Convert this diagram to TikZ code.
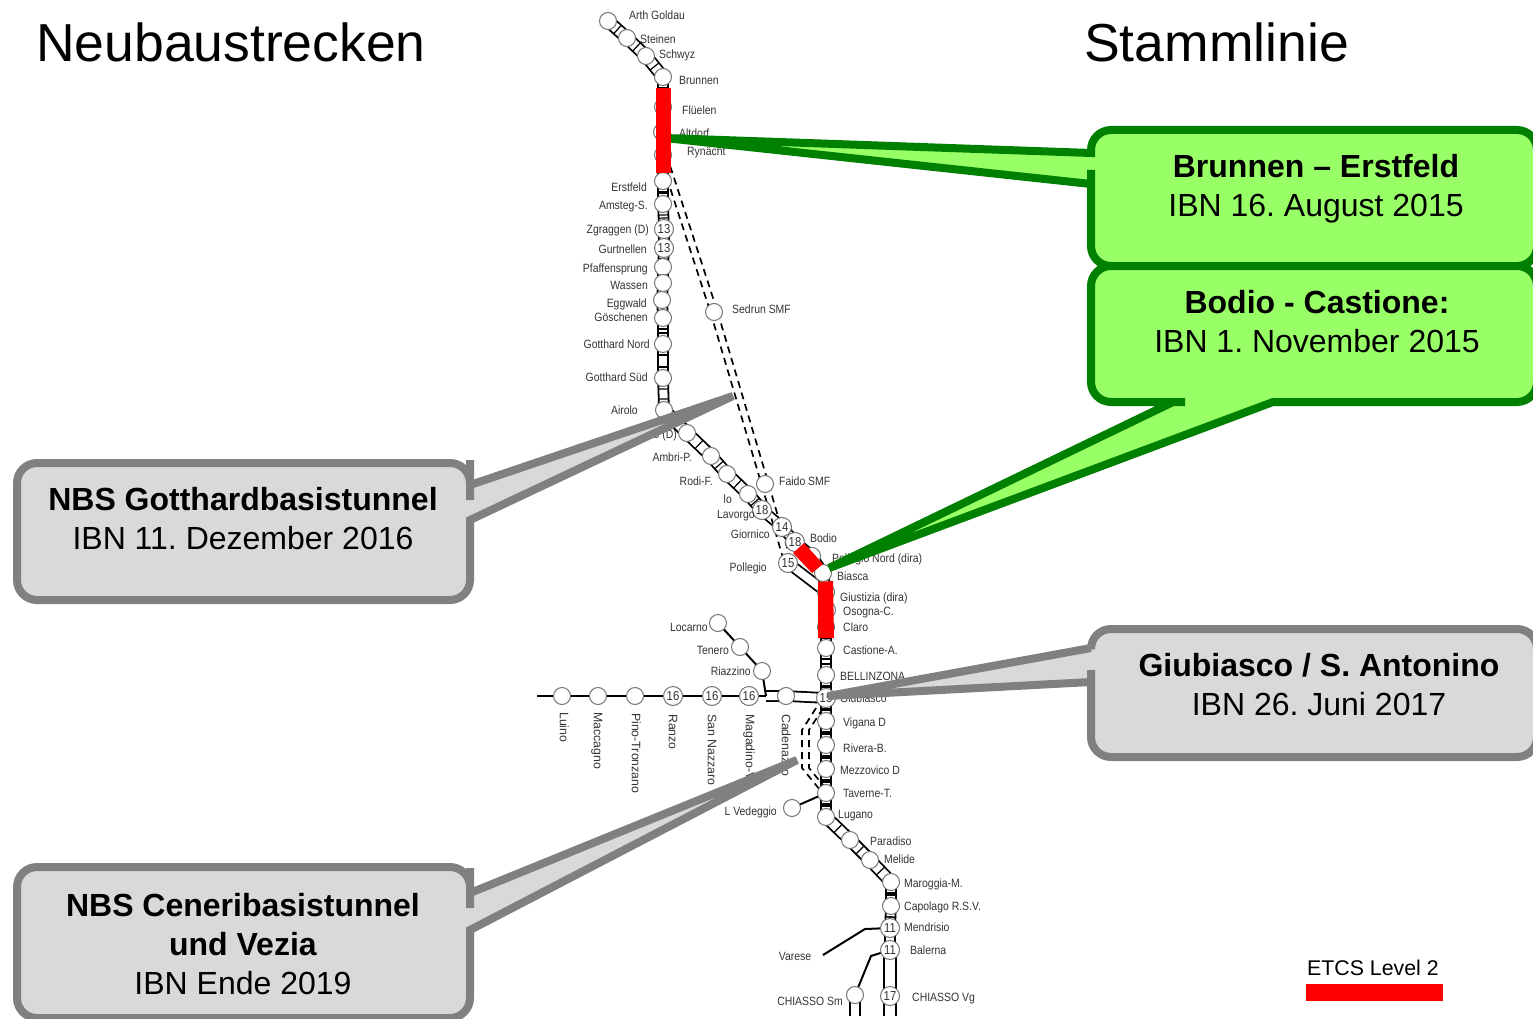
\documentclass[tikz,border=0pt]{standalone}
\usepackage{fontspec}
\setmainfont{Liberation Sans}
\newfontfamily\stationfont[FakeStretch=0.87]{Liberation Sans}
\usetikzlibrary{backgrounds,decorations.markings}
\definecolor{callgreenfill}{HTML}{99FF66}
\definecolor{callgreenline}{HTML}{008000}
\definecolor{callgrayfill}{HTML}{D9D9D9}
\definecolor{callgrayline}{HTML}{808080}
\definecolor{stationgray}{HTML}{333333}
\tikzset{
    station/.style={
        circle,
        draw=black!55,
        fill=white,
        line width=1pt,
        minimum size=17pt,
        inner sep=0pt,
        text=stationgray,
        font=\stationfont\fontsize{13}{13}\selectfont,
    },
    numstation/.style={
        station,
        minimum size=19pt,
    },
    lblr/.style={
        anchor=west,
        inner sep=0pt,
        text height=10.5pt,
        text depth=2pt,
        text=stationgray,
        font=\stationfont\fontsize{12}{12}\selectfont,
    },
    lbll/.style={
        lblr,
        anchor=east,
    },
    lbld/.style={
        lblr,
        rotate=-90,
        text height=9pt,
        text depth=2.5pt,
        font=\fontsize{12.3}{12}\selectfont,
    },
    rails/.style={
        draw=black,
        line width=1.8pt,
        double=white,
        double distance=8pt,
    },
    track/.style={
        rails,
        postaction={
            decorate,
            decoration={
                markings,
                mark=at position 11pt with {\draw[line width=1.2pt,double=none] (0,-5.5pt) -- (0,5.5pt);},
                mark=at position -11pt with {\draw[line width=1.2pt,double=none] (0,-5.5pt) -- (0,5.5pt);},
            },
        },
    },
    slanttrack/.style={
        rails,
        double distance=9.5pt,
        postaction={
            decorate,
            decoration={
                markings,
                mark=at position 0.5 with {\draw[line width=1.2pt,double=none] (0,-6pt) -- (0,6pt);},
            },
        },
    },
    single/.style={
        draw=black,
        line width=2pt,
    },
    tunnel/.style={
        draw=black,
        line width=1.7pt,
        dash pattern=on 7pt off 5pt,
    },
    callgreen/.style={
        draw=callgreenline,
        fill=callgreenfill,
        line width=8pt,
        rounded corners=20pt,
    },
    callgray/.style={
        draw=callgrayline,
        fill=callgrayfill,
        line width=8pt,
        rounded corners=20pt,
    },
    calltext/.style={
        align=center,
        inner sep=0pt,
        font=\frenchspacing\fontsize{32}{39}\selectfont,
    },
    title/.style={
        anchor=west,
        inner sep=0pt,
        font=\fontsize{53.5}{53.5}\selectfont,
    },
    etcsbar/.style={
        fill=red,
        draw=none,
    },
}
\begin{document}
\begin{tikzpicture}[x=1pt,y=-1pt]
    \useasboundingbox (0,0) rectangle (1533,1019);
    \node[title](neubau) at (36,42.5) {Neubaustrecken};
    \node[title](stamm) at (1084,42.5) {Stammlinie};
    % Gotthard line
    \node[station](arth) at (608,21) {};
    \node[lblr](tArth) at (629,15) {Arth Goldau};
    \node[station](steinen) at (627,38) {};
    \node[lblr](tSteinen) at (640,39) {Steinen};
    \node[station](schwyz) at (646,56) {};
    \node[lblr](tSchwyz) at (659,54) {Schwyz};
    \node[station](brunnen) at (663,77) {};
    \node[lblr](tBrunnen) at (679,80) {Brunnen};
    \node[station](flueelen) at (663,107) {};
    \node[lblr](tFlueelen) at (682,110) {Flüelen};
    \node[station](altdorf) at (662,132) {};
    \node[lblr](tAltdorf) at (679,133) {Altdorf};
    \node[station](rynaecht) at (663,155) {};
    \node[lblr](tRynaecht) at (687,151) {Rynächt};
    \node[station](erstfeld) at (663,181) {};
    \node[lbll](tErstfeld) at (647,187) {Erstfeld};
    \node[station](amsteg) at (663,204) {};
    \node[lbll](tAmsteg) at (648,205) {Amsteg-S.};
    \node[numstation](zgraggen) at (664,229) {13};
    \node[lbll](tZgraggen) at (649,229.5) {Zgraggen (D)};
    \node[numstation](gurtnellen) at (664,248) {13};
    \node[lbll](tGurtnellen) at (647,249) {Gurtnellen};
    \node[station](pfaffensprung) at (663,267) {};
    \node[lbll](tPfaffensprung) at (648,268) {Pfaffensprung};
    \node[station](wassen) at (663,283) {};
    \node[lbll](tWassen) at (648,285) {Wassen};
    \node[station](eggwald) at (662,300) {};
    \node[lbll](tEggwald) at (647,303) {Eggwald};
    \node[station](goeschenen) at (663,318) {};
    \node[lbll](tGoeschenen) at (648,317) {Göschenen};
    \node[station](gnord) at (663,344) {};
    \node[lbll](tGnord) at (650,344) {Gotthard Nord};
    \node[station](gsued) at (663,378) {};
    \node[lbll](tGsued) at (648,377) {Gotthard Süd};
    \node[station](airolo) at (664,410) {};
    \node[lbll](tAirolo) at (638,410) {Airolo};
    \node[station](piotta) at (687,433) {};
    \node[lbll](tPiotta) at (677,434) {o (D)};
    \node[station](ambri) at (711,456) {};
    \node[lbll](tAmbri) at (692,457) {Ambri-P.};
    \node[station](rodi) at (727,474) {};
    \node[lbll](tRodi) at (713,481) {Rodi-F.};
    \node[station](faidoN) at (748,494) {};
    \node[lbll](tFaidoN) at (732,499) {lo};
    \node[numstation](lavorgo) at (762,510) {18};
    \node[lbll](tLavorgo) at (755,514) {Lavorgo};
    \node[numstation](giornico) at (782,527) {14};
    \node[lbll](tGiornico) at (770,534) {Giornico};
    \node[numstation](bodioN) at (795,542) {18};
    \node[station](bodio) at (812,556) {};
    \node[lblr](tBodio) at (810,538) {Bodio};
    \node[lblr](tPollegioN) at (832,558) {Pollegio Nord (dira)};
    \node[numstation](pollegio) at (788,563) {15};
    \node[lbll](tPollegio) at (767,567) {Pollegio};
    \node[station](biasca) at (823,573) {};
    \node[lblr](tBiasca) at (837,576) {Biasca};
    \node[station](giustizia) at (826,592) {};
    \node[lblr](tGiustizia) at (840,597) {Giustizia (dira)};
    \node[station](osogna) at (827,610) {};
    \node[lblr](tOsogna) at (843,611) {Osogna-C.};
    \node[station](claro) at (826,627) {};
    \node[lblr](tClaro) at (843,627) {Claro};
    \node[station](castione) at (826,648) {};
    \node[lblr](tCastione) at (843,650) {Castione-A.};
    \node[station](bellinzona) at (826,675) {};
    \node[lblr](tBellinzona) at (840,676) {BELLINZONA};
    \node[numstation](giubiasco) at (826,698) {15};
    \node[lblr](tGiubiasco) at (840,698) {Giubiasco};
    \node[station](vigana) at (826,721) {};
    \node[lblr](tVigana) at (843,722) {Vigana D};
    \node[station](rivera) at (826,745) {};
    \node[lblr](tRivera) at (843,748) {Rivera-B.};
    \node[station](mezzovico) at (826,769) {};
    \node[lblr](tMezzovico) at (840,770) {Mezzovico D};
    \node[station](taverne) at (826,793) {};
    \node[lblr](tTaverne) at (843,793) {Taverne-T.};
    \node[station](lugano) at (826,817) {};
    \node[lblr](tLugano) at (838,814) {Lugano};
    \node[station](paradiso) at (850,840) {};
    \node[lblr](tParadiso) at (870,841) {Paradiso};
    \node[station](melide) at (870,860) {};
    \node[lblr](tMelide) at (884,859) {Melide};
    \node[station](maroggia) at (891,882) {};
    \node[lblr](tMaroggia) at (904,883) {Maroggia-M.};
    \node[station](capolago) at (891,906) {};
    \node[lblr](tCapolago) at (904,906) {Capolago R.S.V.};
    \node[numstation](mendrisio) at (890,928) {11};
    \node[lblr](tMendrisio) at (904,927) {Mendrisio};
    \node[numstation](balerna) at (890,950) {11};
    \node[lblr](tBalerna) at (910,950) {Balerna};
    \node[numstation](chiassoVg) at (890,996) {17};
    \node[lblr](tChiassoVg) at (912,997) {CHIASSO Vg};
    \node[station](chiassoSm) at (855,995) {};
    \node[lbll](tChiassoSm) at (843,1001) {CHIASSO Sm};
    \node[lblr,anchor=center](tVarese) at (795,956) {Varese};
    \node[station](vedeggio) at (792,808) {};
    \node[lbll](tVedeggio) at (777,811) {L Vedeggio};
    % base tunnel stations
    \node[station](sedrun) at (714,312) {};
    \node[lblr](tSedrun) at (732,309) {Sedrun SMF};
    \node[station](faido) at (765,484) {};
    \node[lblr](tFaido) at (779,481) {Faido SMF};
    % Locarno and Luino branches
    \node[station](locarno) at (718,623) {};
    \node[lbll](tLocarno) at (708,627) {Locarno};
    \node[station](tenero) at (740,647) {};
    \node[lbll](tTenero) at (729,650) {Tenero};
    \node[station](riazzino) at (762,671) {};
    \node[lbll](tRiazzino) at (751,671) {Riazzino};
    \node[station](luino) at (562,696) {};
    \node[lbld](tLuino) at (563,712) {Luino};
    \node[station](maccagno) at (598,696) {};
    \node[lbld](tMaccagno) at (597,712) {Maccagno};
    \node[station](pino) at (635,696) {};
    \node[lbld](tPino) at (635,713) {Pino-Tronzano};
    \node[numstation](ranzo) at (673,696) {16};
    \node[lbld](tRanzo) at (672,714) {Ranzo};
    \node[numstation](nazzaro) at (712,696) {16};
    \node[lbld](tNazzaro) at (711,714) {San Nazzaro};
    \node[numstation](magadino) at (749,696) {16};
    \node[lbld](tMagadino) at (749,714) {Magadino-V};
    \node[station](cadenazzo) at (786,696) {};
    \node[lbld](tCadenazzo) at (785,714) {Cadenazzo};
    \coordinate (luinoEnd) at (537,696);
    \coordinate (jctMagadino) at (766,696);
    \coordinate (vareseEnd) at (823,955);
    \coordinate (vareseBend) at (865,929);
    \coordinate (chiassoBend) at (871,956);
    \coordinate (chiassoSmEnd) at (855,1016);
    \coordinate (chiassoVgEnd) at (890,1016);
    \coordinate (ceneriA) at (805.5,730);
    \coordinate (ceneriB) at (805.5,768);
    \begin{scope}[on background layer]
        \draw[slanttrack] (arth.center) -- (steinen.center);
        \draw[slanttrack] (steinen.center) -- (schwyz.center);
        \draw[slanttrack] (schwyz.center) -- (brunnen.center);
        \draw[track] (brunnen.center) -- (flueelen.center);
        \draw[track] (flueelen.center) -- (altdorf.center);
        \draw[track] (altdorf.center) -- (rynaecht.center);
        \draw[track] (rynaecht.center) -- (erstfeld.center);
        \draw[track] (erstfeld.center) -- (amsteg.center);
        \draw[track] (amsteg.center) -- (zgraggen.center);
        \draw[rails] (zgraggen.center) -- (gurtnellen.center);
        \draw[track] (gurtnellen.center) -- (pfaffensprung.center);
        \draw[rails] (pfaffensprung.center) -- (wassen.center);
        \draw[rails] (wassen.center) -- (eggwald.center);
        \draw[rails] (eggwald.center) -- (goeschenen.center);
        \draw[track] (goeschenen.center) -- (gnord.center);
        \draw[track] (gnord.center) -- (gsued.center);
        \draw[track] (gsued.center) -- (airolo.center);
        \draw[slanttrack] (airolo.center) -- (piotta.center);
        \draw[slanttrack] (piotta.center) -- (ambri.center);
        \draw[slanttrack] (ambri.center) -- (rodi.center);
        \draw[slanttrack] (rodi.center) -- (faidoN.center);
        \draw[slanttrack] (faidoN.center) -- (lavorgo.center);
        \draw[rails] (lavorgo.center) -- (giornico.center);
        \draw[rails] (giornico.center) -- (bodioN.center);
        \draw[rails] (bodioN.center) -- (bodio.center);
        \draw[rails] (bodio.center) -- (biasca.center);
        \draw[rails] (pollegio.center) -- (giustizia.center);
        \draw[rails] (biasca.center) -- (giustizia.center);
        \draw[rails] (giustizia.center) -- (osogna.center);
        \draw[rails] (osogna.center) -- (claro.center);
        \draw[track] (claro.center) -- (castione.center);
        \draw[track] (castione.center) -- (bellinzona.center);
        \draw[track] (bellinzona.center) -- (giubiasco.center);
        \draw[track] (giubiasco.center) -- (vigana.center);
        \draw[track] (vigana.center) -- (rivera.center);
        \draw[track] (rivera.center) -- (mezzovico.center);
        \draw[track] (mezzovico.center) -- (taverne.center);
        \draw[track] (taverne.center) -- (lugano.center);
        \draw[slanttrack] (lugano.center) -- (paradiso.center);
        \draw[slanttrack] (paradiso.center) -- (melide.center);
        \draw[slanttrack] (melide.center) -- (maroggia.center);
        \draw[track] (maroggia.center) -- (capolago.center);
        \draw[track] (capolago.center) -- (mendrisio.center);
        \draw[rails] (mendrisio.center) -- (balerna.center);
        \draw[rails,double distance=10pt] (balerna.center) -- (chiassoVg.center) -- (chiassoVgEnd);
        \draw[rails] (chiassoSm.center) -- (chiassoSmEnd);
        \draw[rails] (jctMagadino) -- (cadenazzo.center) -- (giubiasco.center);
        % branches
        \draw[single] (luinoEnd) -- (jctMagadino);
        \draw[single] (locarno.center) -- (tenero.center) -- (riazzino.center) -- (jctMagadino);
        \draw[single] (vedeggio.center) -- (taverne.center);
        \draw[single] (mendrisio.center) -- (vareseBend) -- (vareseEnd);
        \draw[single] (balerna.center) -- (chiassoBend) -- (chiassoSm.center);
        % base tunnels
        \draw[tunnel,transform canvas={xshift=-3.6pt}] (rynaecht.center) -- (sedrun.center);
        \draw[tunnel,transform canvas={xshift=3.6pt}] (rynaecht.center) -- (sedrun.center);
        \draw[tunnel,transform canvas={xshift=-3.6pt}] (sedrun.center) -- (faido.center);
        \draw[tunnel,transform canvas={xshift=3.6pt}] (sedrun.center) -- (faido.center);
        \draw[tunnel,transform canvas={xshift=-3.6pt}] (faido.center) -- (pollegio.center);
        \draw[tunnel,transform canvas={xshift=3.6pt}] (faido.center) -- (pollegio.center);
        \draw[tunnel,transform canvas={xshift=-3.5pt}] (giubiasco.center) -- (ceneriA) -- (ceneriB) -- (taverne.center);
        \draw[tunnel,transform canvas={xshift=3.5pt}] (giubiasco.center) -- (ceneriA) -- (ceneriB) -- (taverne.center);
    \end{scope}
    % callouts
    \coordinate (tipBrunnen) at (665,138);
    \coordinate (tipBodio) at (829,568);
    \coordinate (tipGiubiasco) at (828,696);
    \coordinate (tipGotthard) at (733,396);
    \coordinate (tipCeneri) at (797,760);
    \draw[callgreen] (1091,153) -- (1091,130) -- (1537,130) -- (1537,266) -- (1091,266) -- (1091,190) [sharp corners] -- (1091,184) -- (tipBrunnen) -- cycle;
    \draw[callgreen] (1273,402) -- (1537,402) -- (1537,266) -- (1091,266) -- (1091,402) -- (1165,402) [sharp corners] -- (1173,402) -- (tipBodio) -- cycle;
    \draw[callgray] (1091,648) -- (1091,629) -- (1537,629) -- (1537,757) -- (1091,757) -- (1091,690) [sharp corners] -- (1091,682) -- (tipGiubiasco) -- cycle;
    \draw[callgray] (470,520) -- (470,600) -- (17,600) -- (17,463) -- (470,463) -- (470,480) [sharp corners] -- (470,485) -- (tipGotthard) -- cycle;
    \draw[callgray] (470,930) -- (470,1018) -- (17,1018) -- (17,867) -- (470,867) -- (470,888) [sharp corners] -- (470,893) -- (tipCeneri) -- cycle;
    \node[calltext](txtBrunnen) at (1316,189) {\textbf{Brunnen – Erstfeld}\\IBN 16. August 2015};
    \node[calltext](txtBodio) at (1317,322) {\textbf{Bodio - Castione:}\\IBN 1. November 2015};
    \node[calltext](txtGiubiasco) at (1319,685) {\textbf{Giubiasco / S. Antonino}\\IBN 26. Juni 2017};
    \node[calltext](txtGotthard) at (243,519) {\textbf{NBS Gotthardbasistunnel}\\IBN 11. Dezember 2016};
    \node[calltext](txtCeneri) at (243,944) {\textbf{NBS Ceneribasistunnel}\\\textbf{und Vezia}\\IBN Ende 2019};
    % ETCS sections
    \fill[etcsbar] (655.5,88) -- (671,88) -- (671,173) -- (655.5,173) -- cycle;
    \fill[etcsbar] (793,553) -- (804,543) -- (823,564) -- (812,573) -- cycle;
    \fill[etcsbar] (818,582) -- (833,581) -- (834,638) -- (818,638) -- cycle;
    % legend
    \node[anchor=west,inner sep=0pt,font=\fontsize{21.3}{21.3}\selectfont](legend) at (1307,968) {ETCS Level 2};
    \fill[etcsbar] (1306,984) rectangle (1443,1001);
\end{tikzpicture}
\end{document}
